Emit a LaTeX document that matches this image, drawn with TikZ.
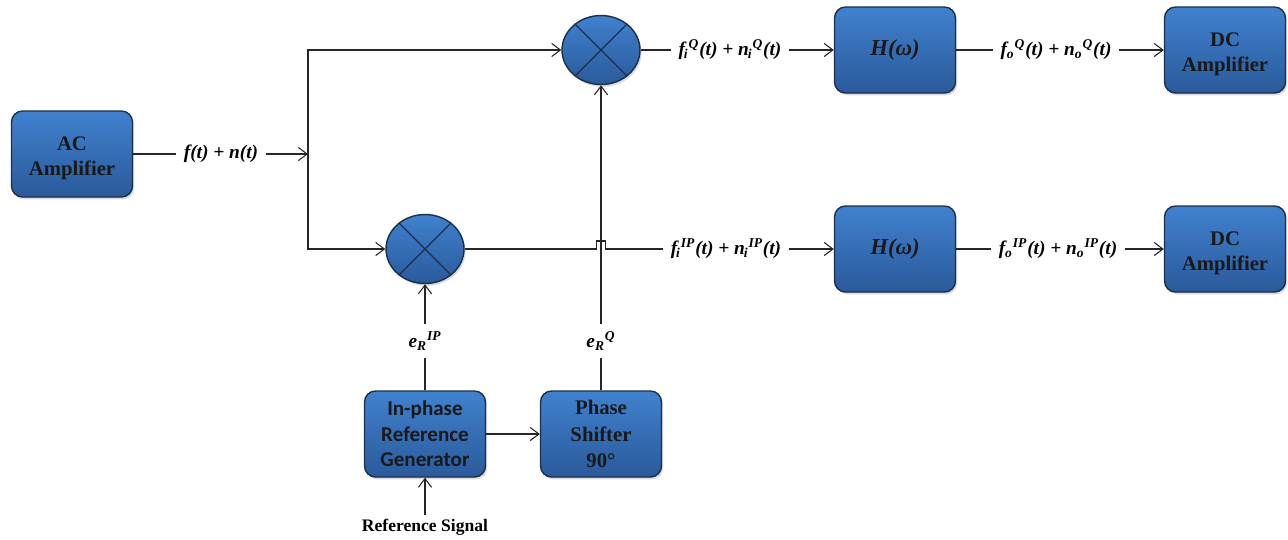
\documentclass[tikz,border=0pt]{standalone}
\usepackage{fontspec}
\setmainfont{Liberation Serif}
\newfontfamily\calfont{Carlito}
\usetikzlibrary{arrows.meta,shadows,shapes.geometric}
\definecolor{boxtop}{HTML}{4081CE}
\definecolor{boxbot}{HTML}{2A5A9B}
\definecolor{boxline}{HTML}{1C2F4C}
% subscript tucked under the italic letter, superscript after it
\newcommand{\tuck}[2]{\kern-0.6pt\textsubscript{#2}\textsuperscript{#1}}
% extra room above the first line of a two-line block label
\newcommand{\boxstrut}{\rule{0pt}{12.5pt}}
\tikzset{
  blk/.style={draw=boxline, line width=0.8pt, rounded corners=0.22cm,
    top color=boxtop, bottom color=boxbot,
    minimum width=2.42cm, minimum height=1.72cm, align=center, text=black!90,
    font=\fontsize{11.8}{14}\selectfont\bfseries,
    drop shadow={opacity=0.3, shadow xshift=0.9pt, shadow yshift=-1.3pt}},
  mixer/.style={ellipse, draw=boxline, line width=0.8pt,
    top color=boxtop, bottom color=boxbot,
    minimum width=1.56cm, minimum height=1.38cm, inner sep=0pt,
    drop shadow={opacity=0.3, shadow xshift=0.9pt, shadow yshift=-1.3pt}},
  sig/.style={font=\fontsize{11}{12}\selectfont\bfseries\itshape, inner sep=4pt},
  wire/.style={line width=0.6pt, draw=black!85},
  arr/.style={wire, -{Straight Barb[length=5pt,width=7.5pt]}}
}
\begin{document}
\begin{tikzpicture}[x=0.02cm, y=-0.02cm]
\useasboundingbox (0,0) rectangle (1288,539);

% blocks
\node[blk] (ac)  at (72,154)  {\boxstrut AC\\Amplifier};
\node[blk, font=\fontsize{13}{15}\selectfont\bfseries\itshape] (hq) at (895,50)  {H(ω)};
\node[blk] (dcq) at (1225,50) {\boxstrut DC\\Amplifier};
\node[blk, font=\fontsize{13}{15}\selectfont\bfseries\itshape] (hi) at (895,249) {H(ω)};
\node[blk] (dci) at (1225,249) {\boxstrut DC\\Amplifier};
\node[blk, font=\fontsize{12}{14.5}\selectfont\calfont\bfseries] (gen) at (425,434) {In-phase\\Reference\\Generator};
\node[blk, font=\fontsize{11.8}{15}\selectfont\bfseries] (ps)  at (601,434) {Phase\\Shifter\\90°};

% multipliers
\node[mixer] (mq) at (601,50) {};
\node[mixer] (mi) at (425,249) {};
\foreach \m in {mq,mi}{
  \draw[boxline, line width=0.7pt] (\m.45) -- (\m.225) (\m.135) -- (\m.315);
}

% signal labels
\node[sig] (lab1) at (221,154) {f(t) + n(t)};
\node[sig] (lq1)  at (730,50)  {f\tuck{Q}{i}(t) + n\tuck{Q}{i}(t)};
\node[sig] (lq2)  at (1056,50) {f\textsubscript{o}\textsuperscript{Q}(t) + n\textsubscript{o}\textsuperscript{Q}(t)};
\node[sig] (li1)  at (726,249) {f\tuck{IP}{i}(t) + n\tuck{IP}{i}(t)};
\node[sig] (li2)  at (1058,249) {f\textsubscript{o}\textsuperscript{IP}(t) + n\textsubscript{o}\textsuperscript{IP}(t)};
\node[sig] (eip)  at (425,341) {e\textsubscript{R}\textsuperscript{IP}};
\node[sig] (eq)   at (601,341) {e\textsubscript{R}\textsuperscript{Q}};
\node[font=\fontsize{10}{12}\selectfont\bfseries, inner sep=2pt] (refsig) at (425,527) {Reference Signal};

% input split
\coordinate (jn) at (308,154);
\draw[wire] (ac.east) -- (lab1.west);
\draw[arr] (lab1.east) -- (jn);
\draw[arr] (jn) |- (mq.west);
\draw[arr] (jn) |- (mi.west);

% quadrature path
\draw[wire] (mq.east) -- (lq1.west);
\draw[arr] (lq1.east) -- (hq.west);
\draw[wire] (hq.east) -- (lq2.west);
\draw[arr] (lq2.east) -- (dcq.west);

% in-phase path, hopping over the quadrature reference line
\coordinate (hopL) at (596.5,249);
\coordinate (hopR) at (605.5,249);
\draw[wire] (mi.east) -- (hopL) -- ++(0,-8) -| (hopR) -- (li1.west);
\draw[arr] (li1.east) -- (hi.west);
\draw[wire] (hi.east) -- (li2.west);
\draw[arr] (li2.east) -- (dci.west);

% reference paths
\draw[wire] (gen.north) -- (eip.south);
\draw[arr] (eip.north) -- (mi.south);
\draw[arr] (gen.east) -- (ps.west);
\draw[wire] (ps.north) -- (eq.south);
\draw[arr] (eq.north) -- (mq.south);
\draw[arr] (refsig.north) -- (gen.south);
\end{tikzpicture}
\end{document}
